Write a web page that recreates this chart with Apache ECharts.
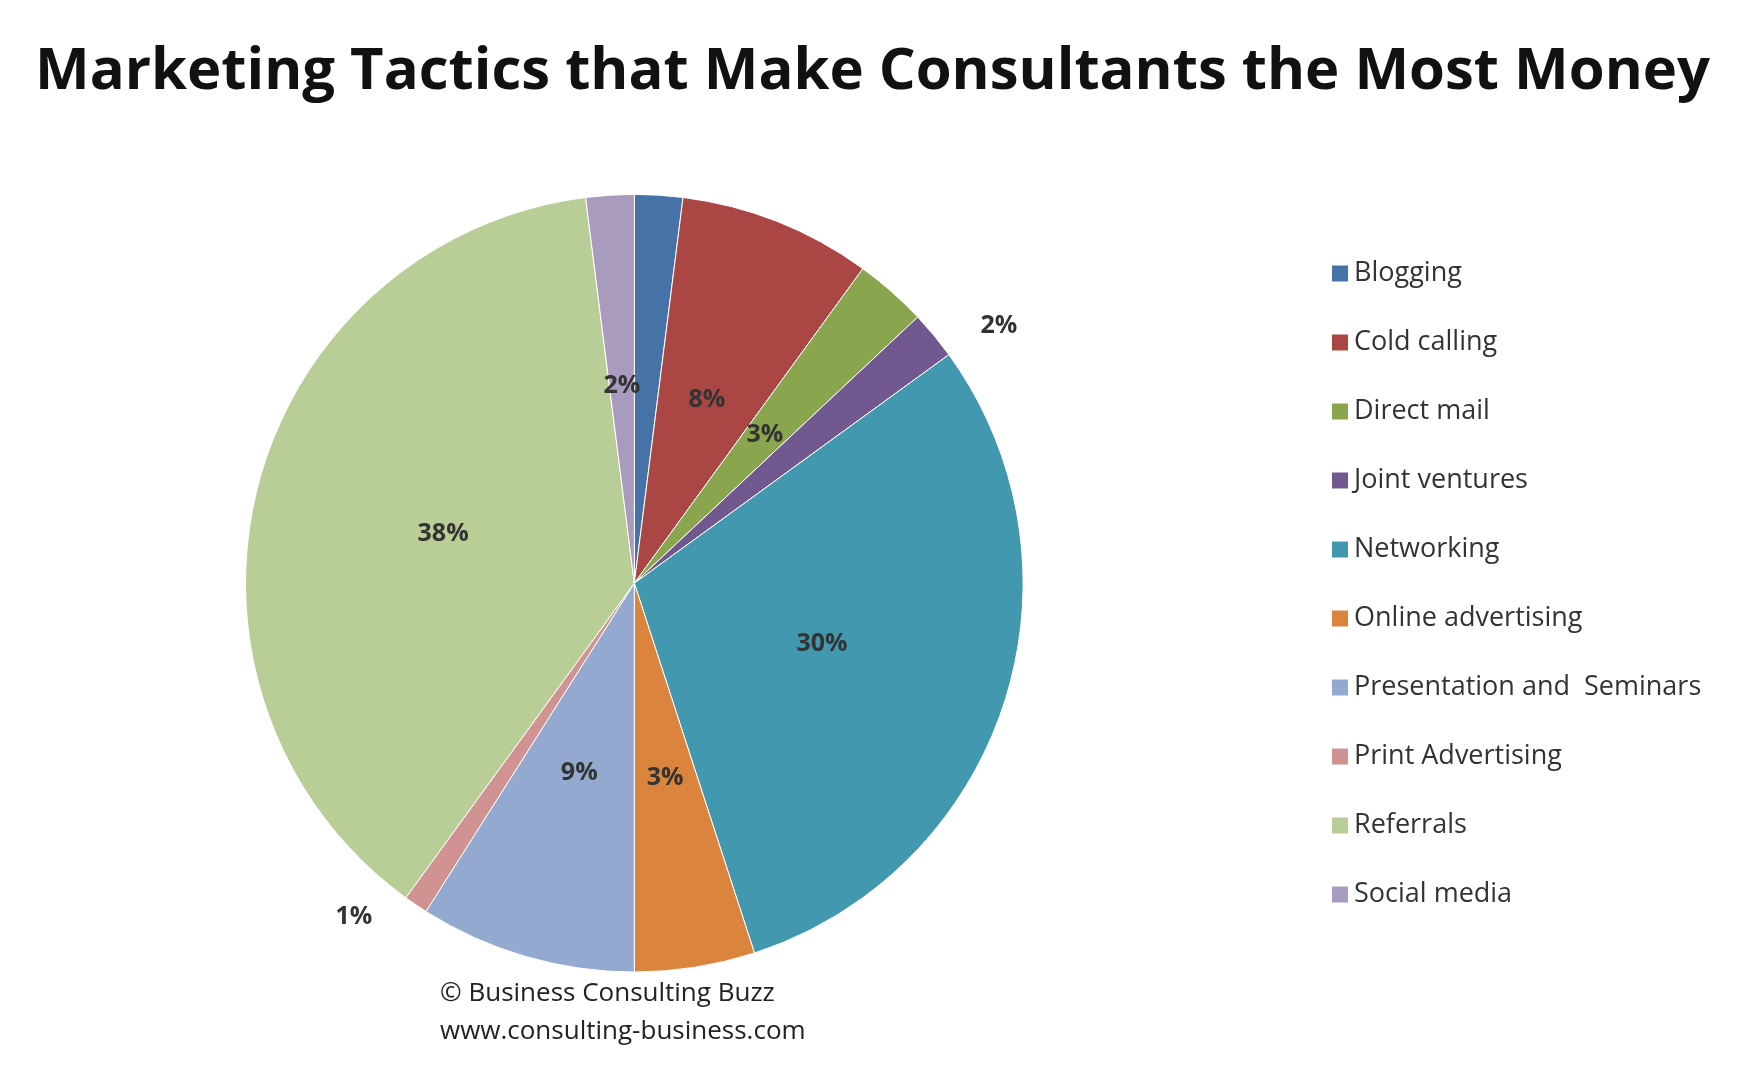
<!DOCTYPE html>
<html>
<head>
<meta charset="utf-8">
<script src="https://cdn.jsdelivr.net/npm/echarts@6/dist/echarts.min.js"></script>
<style>html,body{margin:0;padding:0;background:#fff}#main{width:1762px;height:1080px}</style>
</head>
<body>
<div id="main"></div>
<script>
// Marketing tactics pie
var categories = ['Blogging', 'Cold calling', 'Direct mail', 'Joint ventures', 'Networking',
    'Online advertising', 'Presentation and  Seminars', 'Print Advertising', 'Referrals', 'Social media'];
var values = [2, 8, 3, 2, 30, 5, 9, 1, 38, 2];
var labels = ['2%', '8%', '3%', '2%', '30%', '3%', '9%', '1%', '38%', '2%'];
var colors = ['#4572A7', '#AA4643', '#89A54E', '#71588F', '#4198AF',
    '#DB843D', '#93A9CF', '#D19392', '#B9CD96', '#A99BBD'];

var chart = echarts.init(document.getElementById('main'));
var data = categories.map(function (c, i) {
    var d = { name: c, value: values[i], itemStyle: { color: colors[i] } };
    if (values[i] <= 2 && i !== 0 && i !== 9) {
        d.label = { position: 'outside' };
        d.labelLine = { show: false };
    }
    return d;
});
var option = {
    title: {
        text: 'Marketing Tactics that Make Consultants the Most Money',
        left: 30, top: 38,
        textStyle: { fontFamily: 'Open Sans', fontSize: 58, fontWeight: 'bold', color: '#111' }
    },
    legend: {
        orient: 'vertical', left: 1325, top: 255,
        itemWidth: 18, itemHeight: 18, itemGap: 42,
        icon: 'rect',
        data: categories,
        textStyle: { fontFamily: 'Open Sans', fontSize: 27, color: '#333' }
    },
    graphic: [{
        type: 'text', left: 440, top: 975,
        style: {
            text: '© Business Consulting Buzz\nwww.consulting-business.com',
            font: '26px "Open Sans"', fill: '#222', lineHeight: 38
        }
    }],
    series: [{
        name: 'Marketing tactics',
        type: 'pie',
        radius: '72%',
        center: ['36%', '54%'],
        startAngle: 90,
        data: data,
        label: {
            position: 'inner',
            formatter: function (p) { return labels[p.dataIndex]; },
            fontFamily: 'Open Sans', fontSize: 25, fontWeight: 'bold', color: '#333'
        },
        itemStyle: { borderColor: '#fff', borderWidth: 1 }
    }]
};
chart.setOption(option);
</script>
</body>
</html>
